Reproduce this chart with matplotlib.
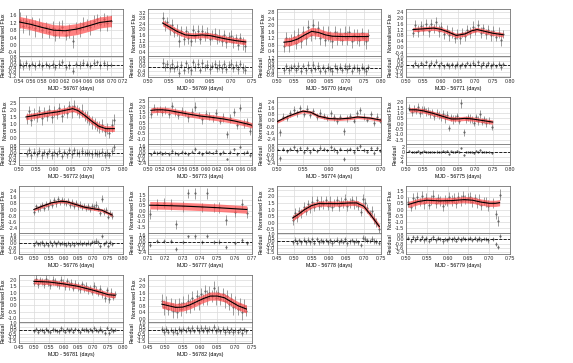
import numpy as np
import matplotlib
matplotlib.use("Agg")
import matplotlib.pyplot as plt
from matplotlib.ticker import FormatStrFormatter

# ---------------- data, one block per night ----------------
# t: MJD fraction, f: normalised flux, e: flux error
# mt/m: model curve, band: half width of the model envelope

t1 = [0.542, 0.547, 0.552, 0.557, 0.563, 0.568, 0.574,
      0.580, 0.586, 0.592, 0.598, 0.603, 0.609, 0.615,
      0.621, 0.627, 0.633, 0.639, 0.645, 0.651, 0.657,
      0.663, 0.669, 0.675, 0.681, 0.687, 0.693, 0.699]
f1 = [1.35, 1.05, 1.30, 0.95, 1.20, 0.90, 1.10,
      0.80, 0.95, 0.70, 0.90, 0.55, 0.85, 1.00,
      0.55, 0.75, 0.20, 0.95, 0.85, 1.15, 1.10,
      0.95, 1.30, 1.40, 1.15, 1.40, 1.20, 1.30]
e1 = [0.45, 0.40, 0.35, 0.40, 0.30, 0.45, 0.35,
      0.40, 0.30, 0.35, 0.40, 0.35, 0.45, 0.35,
      0.30, 0.40, 0.35, 0.30, 0.40, 0.35, 0.30,
      0.40, 0.35, 0.30, 0.40, 0.35, 0.45, 0.30]
mt1 = [0.54, 0.56, 0.58, 0.60, 0.62, 0.64, 0.66, 0.68, 0.70]
m1 = [1.25, 1.12, 0.95, 0.80, 0.77, 0.86, 1.03, 1.22, 1.30]

t2 = [0.535, 0.541, 0.546, 0.552, 0.558, 0.563, 0.569, 0.575, 0.580,
      0.586, 0.592, 0.597, 0.603, 0.609, 0.614, 0.620, 0.626, 0.631,
      0.637, 0.643, 0.648, 0.654, 0.660, 0.665, 0.671, 0.677, 0.682,
      0.688, 0.694, 0.699, 0.705, 0.711, 0.716, 0.722, 0.728, 0.734]
f2 = [2.80, 2.30, 2.50, 2.00, 2.30, 1.80, 1.95, 1.20, 1.90,
      1.30, 1.90, 1.40, 1.20, 1.95, 1.50, 1.85, 1.30, 1.90,
      1.50, 1.75, 1.30, 1.60, 1.70, 1.30, 1.55, 1.20, 1.60,
      1.10, 1.45, 1.50, 1.10, 1.35, 0.90, 1.40, 1.00, 0.80]
e2 = [0.45, 0.40, 0.35, 0.40, 0.45, 0.35, 0.40, 0.45, 0.35,
      0.40, 0.35, 0.45, 0.40, 0.35, 0.40, 0.45, 0.35, 0.40,
      0.35, 0.40, 0.45, 0.35, 0.40, 0.35, 0.45, 0.40, 0.35,
      0.40, 0.35, 0.45, 0.40, 0.35, 0.40, 0.35, 0.45, 0.40]
mt2 = [0.535, 0.55, 0.57, 0.59, 0.61, 0.63, 0.65, 0.67, 0.69, 0.71, 0.735]
m2 = [2.45, 2.20, 1.85, 1.60, 1.55, 1.60, 1.55, 1.42, 1.30, 1.20, 1.10]

t3 = [0.520, 0.527, 0.534, 0.541, 0.548, 0.555, 0.562, 0.569, 0.576,
      0.583, 0.590, 0.597, 0.604, 0.611, 0.618, 0.625, 0.632, 0.639,
      0.646, 0.653, 0.660, 0.667, 0.674, 0.681, 0.688, 0.695, 0.702,
      0.709, 0.716, 0.723, 0.730, 0.737, 0.744, 0.751, 0.757, 0.763]
f3 = [0.70, 1.20, 0.80, 1.10, 1.30, 0.90, 1.40, 1.00, 1.60,
      1.20, 1.90, 1.40, 2.00, 1.50, 1.80, 1.20, 1.60, 1.10,
      1.50, 1.30, 1.00, 1.60, 1.20, 1.45, 1.10, 1.55, 1.20,
      1.60, 1.00, 1.40, 1.30, 1.10, 1.50, 1.20, 1.00, 1.40]
e3 = [0.35, 0.40, 0.45, 0.35, 0.40, 0.35, 0.45, 0.40, 0.35,
      0.40, 0.45, 0.35, 0.40, 0.35, 0.45, 0.40, 0.35, 0.40,
      0.45, 0.35, 0.40, 0.35, 0.45, 0.40, 0.35, 0.40, 0.45,
      0.35, 0.40, 0.35, 0.45, 0.40, 0.35, 0.40, 0.45, 0.35]
mt3 = [0.52, 0.54, 0.56, 0.58, 0.60, 0.62, 0.64, 0.66, 0.69, 0.72, 0.763]
m3 = [0.95, 1.00, 1.15, 1.40, 1.62, 1.55, 1.40, 1.32, 1.30, 1.30, 1.30]

t4 = [0.520, 0.527, 0.535, 0.542, 0.550, 0.557, 0.565, 0.572, 0.580,
      0.587, 0.595, 0.602, 0.610, 0.617, 0.625, 0.632, 0.640, 0.647,
      0.655, 0.662, 0.670, 0.677, 0.685, 0.692, 0.700, 0.707, 0.715,
      0.722, 0.730, 0.737, 0.745, 0.752, 0.760, 0.767, 0.775, 0.780]
f4 = [1.00, 1.50, 1.10, 1.45, 1.20, 1.60, 1.10, 1.55, 1.30,
      1.70, 1.10, 1.40, 0.90, 1.20, 0.80, 1.00, 0.60, 0.90,
      0.60, 1.00, 0.75, 1.20, 1.00, 1.40, 1.10, 1.50, 1.00,
      1.30, 0.90, 1.20, 0.80, 1.10, 0.70, 1.00, 0.50, 0.90]
e4 = [0.30, 0.35, 0.40, 0.30, 0.35, 0.30, 0.40, 0.35, 0.30,
      0.35, 0.40, 0.30, 0.35, 0.30, 0.40, 0.35, 0.30, 0.35,
      0.40, 0.30, 0.35, 0.30, 0.40, 0.35, 0.30, 0.35, 0.40,
      0.30, 0.35, 0.30, 0.40, 0.35, 0.30, 0.35, 0.40, 0.30]
mt4 = [0.52, 0.55, 0.58, 0.60, 0.62, 0.645, 0.67, 0.69, 0.705, 0.72, 0.75, 0.78]
m4 = [1.20, 1.25, 1.30, 1.22, 1.05, 0.80, 0.90, 1.12, 1.20, 1.12, 0.95, 0.85]

t5 = [0.522, 0.529, 0.536, 0.544, 0.551, 0.558, 0.565, 0.573, 0.580,
      0.587, 0.594, 0.602, 0.609, 0.616, 0.623, 0.631, 0.638, 0.645,
      0.652, 0.660, 0.667, 0.674, 0.681, 0.689, 0.696, 0.703, 0.710,
      0.718, 0.725, 0.732, 0.739, 0.747, 0.754, 0.761, 0.768, 0.775]
f5 = [1.40, 1.90, 1.30, 1.70, 1.50, 1.90, 1.40, 1.85, 1.60,
      2.00, 1.50, 1.90, 1.70, 2.10, 1.60, 2.00, 1.80, 2.30,
      1.90, 2.30, 2.00, 1.80, 1.95, 1.55, 1.50, 1.30, 1.10,
      1.05, 0.85, 0.80, 0.90, 0.50, 0.70, 0.40, 0.90, 1.30]
e5 = [0.40, 0.35, 0.45, 0.40, 0.35, 0.40, 0.45, 0.35, 0.40,
      0.35, 0.45, 0.40, 0.35, 0.40, 0.45, 0.35, 0.40, 0.35,
      0.45, 0.40, 0.35, 0.40, 0.45, 0.35, 0.40, 0.35, 0.45,
      0.40, 0.35, 0.40, 0.45, 0.35, 0.40, 0.35, 0.45, 0.40]
mt5 = [0.52, 0.55, 0.58, 0.61, 0.64, 0.655, 0.67, 0.69, 0.71, 0.73, 0.75, 0.775]
m5 = [1.50, 1.62, 1.75, 1.85, 2.00, 2.08, 1.95, 1.60, 1.20, 0.85, 0.68, 0.68]

t6 = [0.505, 0.510, 0.515, 0.520, 0.525, 0.530, 0.536, 0.541,
      0.547, 0.552, 0.558, 0.564, 0.570, 0.576, 0.582, 0.588,
      0.594, 0.600, 0.606, 0.612, 0.618, 0.624, 0.630, 0.636,
      0.642, 0.648, 0.654, 0.660, 0.666, 0.671, 0.676, 0.680]
f6 = [1.30, 1.90, 1.60, 1.80, 1.50, 1.70, 1.30, 2.10,
      1.50, 1.20, 1.60, 1.40, 1.00, 1.50, 2.00, 1.20,
      0.80, 1.30, 1.10, 0.90, 1.40, 0.70, 1.00, -0.60,
      0.90, 1.50, 0.30, 1.90, 0.40, 0.60, -0.30, 0.20]
e6 = [0.40, 0.35, 0.40, 0.30, 0.40, 0.35, 0.40, 0.30,
      0.40, 0.35, 0.40, 0.30, 0.40, 0.35, 0.40, 0.30,
      0.40, 0.35, 0.40, 0.30, 0.40, 0.35, 0.40, 0.30,
      0.40, 0.35, 0.40, 0.30, 0.40, 0.35, 0.40, 0.30]
mt6 = [0.505, 0.515, 0.525, 0.535, 0.55, 0.57, 0.59, 0.61, 0.63, 0.65, 0.67, 0.68]
m6 = [1.65, 1.70, 1.70, 1.65, 1.50, 1.30, 1.12, 1.00, 0.85, 0.65, 0.40, 0.25]

t7 = [0.500, 0.506, 0.512, 0.519, 0.525, 0.532, 0.538, 0.545,
      0.551, 0.558, 0.564, 0.570, 0.577, 0.583, 0.590, 0.596,
      0.603, 0.609, 0.615, 0.622, 0.628, 0.635, 0.641, 0.648,
      0.654, 0.660, 0.667, 0.673, 0.680, 0.686, 0.693, 0.699]
f7 = [0.10, -1.50, 0.50, 0.30, 0.90, 1.40, 0.90, 1.60,
      0.80, 1.50, 0.70, 1.20, 0.50, 1.00, 0.60, 0.30,
      0.90, 0.40, -0.10, 0.50, -1.40, 0.30, 0.60, 0.00,
      0.90, 1.30, 0.50, 0.10, 0.80, -0.30, 0.50, 0.00]
e7 = [0.40, 0.45, 0.40, 0.35, 0.40, 0.45, 0.40, 0.35,
      0.40, 0.45, 0.40, 0.35, 0.40, 0.45, 0.40, 0.35,
      0.40, 0.45, 0.40, 0.35, 0.40, 0.45, 0.40, 0.35,
      0.40, 0.45, 0.40, 0.35, 0.40, 0.45, 0.40, 0.35]
mt7 = [0.50, 0.52, 0.54, 0.55, 0.565, 0.58, 0.60, 0.62, 0.64, 0.655, 0.68, 0.70]
m7 = [-0.15, 0.50, 1.00, 1.20, 1.05, 0.55, 0.25, 0.20, 0.30, 0.45, 0.30, 0.05]

t8 = [0.510, 0.516, 0.522, 0.528, 0.534, 0.540, 0.546, 0.552,
      0.558, 0.564, 0.570, 0.576, 0.582, 0.588, 0.594, 0.600,
      0.606, 0.612, 0.618, 0.624, 0.630, 0.636, 0.642, 0.648,
      0.654, 0.660, 0.666, 0.672, 0.678, 0.684, 0.690, 0.696,
      0.702, 0.708, 0.714, 0.720, 0.726, 0.732, 0.740, 0.748]
f8 = [1.50, 1.10, 1.40, 1.20, 1.60, 1.00, 1.30, 1.40,
      1.10, 1.20, 0.90, 1.10, 0.70, 1.00, 0.80, 0.60,
      0.90, 0.50, 0.80, -0.40, 0.60, 0.40, 0.50, 0.70,
      0.30, 1.90, -0.80, 0.40, 0.60, 0.50, 0.40, 0.10,
      0.60, 0.30, 0.90, 0.20, 0.40, 0.10, 0.30, -0.30]
e8 = [0.35, 0.40, 0.35, 0.30, 0.35, 0.40, 0.35, 0.30,
      0.35, 0.40, 0.35, 0.30, 0.35, 0.40, 0.35, 0.30,
      0.35, 0.40, 0.35, 0.30, 0.35, 0.40, 0.35, 0.30,
      0.35, 0.40, 0.35, 0.30, 0.35, 0.40, 0.35, 0.30,
      0.35, 0.40, 0.35, 0.30, 0.35, 0.40, 0.35, 0.30]
mt8 = [0.51, 0.53, 0.55, 0.58, 0.61, 0.63, 0.65, 0.67, 0.69, 0.71, 0.73, 0.75]
m8 = [1.30, 1.30, 1.20, 0.95, 0.65, 0.45, 0.45, 0.50, 0.45, 0.35, 0.25, 0.15]

t9 = [0.500, 0.507, 0.514, 0.520, 0.527, 0.534, 0.541, 0.547,
      0.554, 0.561, 0.568, 0.574, 0.581, 0.588, 0.595, 0.601,
      0.608, 0.615, 0.622, 0.628, 0.635, 0.642, 0.649, 0.655,
      0.662, 0.669, 0.676, 0.682, 0.689, 0.696, 0.703, 0.709,
      0.716, 0.723, 0.730, 0.736, 0.743, 0.750, 0.757, 0.763]
f9 = [-0.30, 0.40, 0.10, 0.30, 0.60, 0.20, 0.70, 0.40,
      1.00, 0.60, 1.20, 0.80, 1.30, 0.90, 1.20, 1.00,
      0.80, 1.10, 0.60, 0.90, 0.50, 0.80, 0.40, 0.60,
      0.30, 0.50, 0.20, 0.40, 0.10, 0.50, 0.30, 0.60,
      0.20, -0.50, 1.40, -0.30, -0.10, -0.90, -0.40, -0.80]
e9 = [0.40, 0.35, 0.40, 0.45, 0.40, 0.35, 0.40, 0.45,
      0.40, 0.35, 0.40, 0.45, 0.40, 0.35, 0.40, 0.45,
      0.40, 0.35, 0.40, 0.45, 0.40, 0.35, 0.40, 0.45,
      0.40, 0.35, 0.40, 0.45, 0.40, 0.35, 0.40, 0.45,
      0.40, 0.35, 0.40, 0.45, 0.40, 0.35, 0.40, 0.45]
mt9 = [0.50, 0.53, 0.56, 0.59, 0.61, 0.64, 0.67, 0.70, 0.73, 0.763]
m9 = [0.00, 0.45, 0.85, 1.05, 1.00, 0.65, 0.30, 0.10, -0.10, -0.70]

t10 = [0.711, 0.715, 0.719, 0.723, 0.726, 0.730, 0.733, 0.737,
       0.741, 0.744, 0.748, 0.751, 0.755, 0.760, 0.764, 0.767]
f10 = [-0.30, 0.60, 0.70, 0.60, -1.30, 0.40, 1.60, 1.60,
       0.30, 1.60, 0.30, 0.30, -0.90, -0.10, 0.60, -0.20]
e10 = [0.45, 0.50, 0.45, 0.50, 0.45, 0.50, 0.45, 0.50,
       0.45, 0.50, 0.45, 0.50, 0.45, 0.50, 0.45, 0.50]
mt10 = [0.711, 0.72, 0.73, 0.74, 0.75, 0.76, 0.767]
m10 = [0.50, 0.47, 0.42, 0.35, 0.27, 0.17, 0.10]

t11 = [0.495, 0.501, 0.508, 0.514, 0.520, 0.527, 0.533, 0.539,
       0.546, 0.552, 0.558, 0.565, 0.571, 0.577, 0.584, 0.590,
       0.596, 0.603, 0.609, 0.615, 0.622, 0.628, 0.634, 0.641,
       0.647, 0.653, 0.660, 0.666, 0.672, 0.679, 0.685, 0.691,
       0.698, 0.704, 0.710, 0.717, 0.723, 0.729, 0.736, 0.744]
f11 = [0.20, 0.70, 0.40, 0.90, 0.70, 1.20, 0.90, 1.40,
       1.10, 1.60, 1.20, 1.70, 1.30, 1.60, 1.40, 1.70,
       1.30, 1.60, 1.20, 1.50, 1.70, 1.30, 1.60, 1.40,
       1.80, 1.30, 1.50, 1.70, 1.40, 1.60, 1.30, 0.80,
       1.80, 1.50, 1.10, 0.70, 0.90, 0.30, 0.00, -0.50]
e11 = [0.35, 0.40, 0.35, 0.30, 0.35, 0.40, 0.35, 0.30,
       0.35, 0.40, 0.35, 0.30, 0.35, 0.40, 0.35, 0.30,
       0.35, 0.40, 0.35, 0.30, 0.35, 0.40, 0.35, 0.30,
       0.35, 0.40, 0.35, 0.30, 0.35, 0.40, 0.35, 0.30,
       0.35, 0.40, 0.35, 0.30, 0.35, 0.40, 0.35, 0.30]
mt11 = [0.495, 0.51, 0.53, 0.55, 0.57, 0.60, 0.63, 0.66, 0.68, 0.70, 0.72, 0.745]
m11 = [0.35, 0.60, 1.00, 1.30, 1.45, 1.45, 1.45, 1.50, 1.50, 1.25, 0.60, -0.30]

t12 = [0.505, 0.511, 0.516, 0.522, 0.527, 0.533, 0.538, 0.544,
       0.549, 0.555, 0.560, 0.566, 0.571, 0.577, 0.582, 0.588,
       0.593, 0.599, 0.604, 0.610, 0.615, 0.621, 0.626, 0.632,
       0.637, 0.643, 0.648, 0.654, 0.659, 0.665, 0.670, 0.676,
       0.681, 0.687, 0.692, 0.698, 0.710, 0.716, 0.720, 0.725]
f12 = [0.60, 0.20, 0.90, 0.50, 1.00, 0.60, 1.10, 0.50,
       0.90, 0.40, 0.80, 1.10, 0.50, 0.90, 0.70, 0.30,
       0.80, 0.60, 1.00, 0.70, 0.90, 0.50, 1.00, 0.70,
       1.10, 0.80, 0.90, 1.00, 0.60, 0.90, 0.50, 0.80,
       0.40, 0.70, 0.60, 0.30, 0.50, -0.40, -0.90, 1.20]
e12 = [0.40, 0.35, 0.40, 0.45, 0.40, 0.35, 0.40, 0.45,
       0.40, 0.35, 0.40, 0.45, 0.40, 0.35, 0.40, 0.45,
       0.40, 0.35, 0.40, 0.45, 0.40, 0.35, 0.40, 0.45,
       0.40, 0.35, 0.40, 0.45, 0.40, 0.35, 0.40, 0.45,
       0.40, 0.35, 0.40, 0.45, 0.40, 0.35, 0.40, 0.45]
mt12 = [0.505, 0.53, 0.55, 0.58, 0.61, 0.64, 0.66, 0.68, 0.70, 0.715, 0.725]
m12 = [0.40, 0.65, 0.75, 0.70, 0.72, 0.80, 0.75, 0.60, 0.50, 0.50, 0.55]

t13 = [0.500, 0.507, 0.514, 0.521, 0.528, 0.535, 0.542, 0.549,
       0.556, 0.563, 0.570, 0.577, 0.584, 0.591, 0.598, 0.605,
       0.612, 0.619, 0.626, 0.633, 0.640, 0.647, 0.654, 0.661,
       0.668, 0.675, 0.682, 0.689, 0.696, 0.703, 0.710, 0.717,
       0.724, 0.731, 0.738, 0.745, 0.752, 0.759, 0.766, 0.773]
f13 = [1.80, 2.10, 1.70, 2.00, 1.90, 1.70, 2.10, 1.80,
       1.60, 2.00, 1.90, 1.70, 1.60, 2.00, 1.80, 1.50,
       1.90, 1.60, 1.80, 1.40, 1.70, 1.50, 1.30, 1.70,
       1.40, 1.50, 1.20, 1.40, 1.10, 1.50, 1.20, 1.00,
       1.30, 0.90, 0.60, 1.20, 0.50, 1.00, 0.70, 0.90]
e13 = [0.30, 0.35, 0.30, 0.25, 0.30, 0.35, 0.30, 0.25,
       0.30, 0.35, 0.30, 0.25, 0.30, 0.35, 0.30, 0.25,
       0.30, 0.35, 0.30, 0.25, 0.30, 0.35, 0.30, 0.25,
       0.30, 0.35, 0.30, 0.25, 0.30, 0.35, 0.30, 0.25,
       0.30, 0.35, 0.30, 0.25, 0.30, 0.35, 0.30, 0.25]
mt13 = [0.50, 0.55, 0.60, 0.65, 0.70, 0.73, 0.75, 0.773]
m13 = [1.90, 1.85, 1.70, 1.50, 1.20, 1.00, 0.85, 0.80]

t14 = [0.490, 0.496, 0.502, 0.509, 0.515, 0.521, 0.527, 0.534,
       0.540, 0.546, 0.552, 0.559, 0.565, 0.571, 0.577, 0.584,
       0.590, 0.596, 0.602, 0.609, 0.615, 0.621, 0.627, 0.634,
       0.640, 0.646, 0.652, 0.659, 0.665, 0.671, 0.677, 0.684,
       0.690, 0.696, 0.702, 0.709, 0.715, 0.721, 0.727, 0.734]
f14 = [1.10, 0.70, 1.00, 0.60, 0.90, 0.50, 0.80, 0.40,
       0.90, 0.60, 1.00, 0.70, 1.10, 0.80, 1.30, 0.90,
       1.40, 1.00, 1.50, 1.20, 1.70, 1.30, 1.60, 1.40,
       1.90, 1.30, 1.60, 1.20, 1.50, 1.10, 1.40, 0.90,
       1.20, 0.70, 1.00, 0.60, 0.90, 0.40, 0.80, 0.50]
e14 = [0.40, 0.45, 0.40, 0.35, 0.40, 0.45, 0.40, 0.35,
       0.40, 0.45, 0.40, 0.35, 0.40, 0.45, 0.40, 0.35,
       0.40, 0.45, 0.40, 0.35, 0.40, 0.45, 0.40, 0.35,
       0.40, 0.45, 0.40, 0.35, 0.40, 0.45, 0.40, 0.35,
       0.40, 0.45, 0.40, 0.35, 0.40, 0.45, 0.40, 0.35]
mt14 = [0.49, 0.51, 0.53, 0.55, 0.57, 0.59, 0.61, 0.63, 0.65, 0.67, 0.69, 0.71, 0.734]
m14 = [0.90, 0.80, 0.70, 0.72, 0.85, 1.05, 1.25, 1.40, 1.40, 1.30, 1.05, 0.80, 0.60]

nights = [56767, 56769, 56770, 56771, 56772, 56773, 56774,
          56775, 56776, 56777, 56778, 56779, 56781, 56782]
bands = [0.30, 0.20, 0.25, 0.15, 0.20, 0.25, 0.20,
         0.20, 0.20, 0.35, 0.20, 0.25, 0.20, 0.25]

# axis ticks per panel
xt_a = [0.54, 0.56, 0.58, 0.60, 0.62, 0.64, 0.66, 0.68, 0.70, 0.72]
xt_b = [0.50, 0.55, 0.60, 0.65, 0.70, 0.75]
xt_c = [0.50, 0.55, 0.60, 0.65, 0.70, 0.75, 0.80]
xt_d = [0.50, 0.52, 0.54, 0.56, 0.58, 0.60, 0.62, 0.64, 0.66, 0.68]
xt_e = [0.50, 0.55, 0.60, 0.65, 0.70]
xt_f = [0.45, 0.50, 0.55, 0.60, 0.65, 0.70, 0.75, 0.80]
xt_g = [0.71, 0.72, 0.73, 0.74, 0.75, 0.76, 0.77]
xt_h = [0.45, 0.50, 0.55, 0.60, 0.65, 0.70, 0.75]
xticks = [xt_a, xt_b, xt_c, xt_c, xt_c, xt_d, xt_e,
          xt_c, xt_f, xt_g, xt_h, xt_b, xt_f, xt_h]

yt_04 = [-0.4, 0.0, 0.4, 0.8, 1.2, 1.6]
yt_32 = [0.4, 0.8, 1.2, 1.6, 2.0, 2.4, 2.8, 3.2]
yt_28 = [0.4, 0.8, 1.2, 1.6, 2.0, 2.4, 2.8]
yt_24 = [-0.4, 0.0, 0.4, 0.8, 1.2, 1.6, 2.0, 2.4]
yt_25 = [0.0, 0.5, 1.0, 1.5, 2.0, 2.5]
yt_m1 = [-1.0, -0.5, 0.0, 0.5, 1.0, 1.5, 2.0, 2.5]
yt_08 = [-2.4, -1.6, -0.8, 0.0, 0.8, 1.6, 2.4]
yt_20 = [-1.5, -1.0, -0.5, 0.0, 0.5, 1.0, 1.5, 2.0]
yt_15 = [-1.5, -1.0, -0.5, 0.0, 0.5, 1.0, 1.5]
yt_h5 = [-0.5, 0.0, 0.5, 1.0, 1.5, 2.0, 2.5]
yt_21 = [-1.0, -0.5, 0.0, 0.5, 1.0, 1.5, 2.0]
yt_z4 = [0.0, 0.4, 0.8, 1.2, 1.6, 2.0, 2.4]
yticks = [yt_04, yt_32, yt_28, yt_24, yt_25, yt_m1, yt_08,
          yt_20, yt_08, yt_15, yt_h5, yt_15, yt_21, yt_z4]
ylims = [(-0.6, 1.95), (0.1, 3.45), (0.1, 3.0), (-0.6, 2.6), (-0.4, 2.9),
         (-1.5, 2.9), (-3.0, 3.0), (-1.9, 2.5), (-3.0, 3.0), (-2.1, 2.3),
         (-0.8, 2.8), (-1.9, 1.9), (-1.3, 2.4), (-0.2, 2.7)]

rt_a = [-1.2, -0.8, -0.4, 0.0, 0.4, 0.8]
rt_b = [-0.8, -0.4, 0.0, 0.4, 0.8]
rt_c = [-0.8, -0.4, 0.0, 0.4, 0.8, 1.2]
rt_d = [-1.5, -1.0, -0.5, 0.0, 0.5, 1.0]
rt_e = [-2.4, -1.6, -0.8, 0.0, 0.8, 1.6]
rt_f = [-2.4, -1.6, -0.8, 0.0, 0.8]
rt_g = [-4, -2, 0, 2]
rt_h = [-1.6, -0.8, 0.0, 0.8, 1.6]
rticks = [rt_a, rt_b, rt_c, rt_d, rt_a, rt_e, rt_f,
          rt_g, rt_h, rt_e, rt_d, rt_f, rt_d, rt_d]
rlims = [(-1.3, 0.9), (-1.0, 1.0), (-1.0, 1.4), (-1.7, 1.2), (-1.4, 1.0),
         (-2.8, 2.0), (-2.8, 1.2), (-5.0, 3.0), (-2.0, 2.0), (-2.8, 2.0),
         (-1.8, 1.2), (-2.8, 1.2), (-1.8, 1.2), (-1.8, 1.2)]

ts = [t1, t2, t3, t4, t5, t6, t7, t8, t9, t10, t11, t12, t13, t14]
fs = [f1, f2, f3, f4, f5, f6, f7, f8, f9, f10, f11, f12, f13, f14]
es = [e1, e2, e3, e4, e5, e6, e7, e8, e9, e10, e11, e12, e13, e14]
mts = [mt1, mt2, mt3, mt4, mt5, mt6, mt7, mt8, mt9, mt10, mt11, mt12, mt13, mt14]
ms = [m1, m2, m3, m4, m5, m6, m7, m8, m9, m10, m11, m12, m13, m14]

# ---------------- figure ----------------
W, H = 573, 363
plt.rcParams['font.family'] = ['Liberation Sans', 'DejaVu Sans']
fig = plt.figure(figsize=(W / 100, H / 100), dpi=100)

lefts = [19, 148, 277, 406]
tops = [9, 97, 186, 275]
aw, mh, rh = 104, 47, 21
FS = 3.8


def add_px(left, top, w, h):
    return fig.add_axes([left / W, 1 - (top + h) / H, w / W, h / H])


def style(ax):
    ax.grid(True, color='0.86', lw=0.5)
    ax.set_axisbelow(True)
    for s in ax.spines.values():
        s.set_color('0.45')
        s.set_linewidth(0.6)
    ax.tick_params(length=0, labelsize=FS, pad=1.2, colors='0.15')


for i in range(14):
    row, col = divmod(i, 4)
    t = np.array(ts[i])
    f = np.array(fs[i])
    e = np.array(es[i])
    mt = np.array(mts[i])
    m = np.array(ms[i])
    b = bands[i]
    xl = (xticks[i][0], xticks[i][-1])

    ax = add_px(lefts[col], tops[row], aw, mh)
    rx = add_px(lefts[col], tops[row] + mh, aw, rh)
    style(ax)
    style(rx)

    ax.errorbar(t, f, yerr=e, fmt='.', ms=1.0, color='0.35', ecolor='0.55',
                elinewidth=0.6, capsize=0, zorder=2)
    ax.fill_between(mt, m - b, m + b, color='#ff4d4d', alpha=0.7, lw=0, zorder=3)
    ax.plot(mt, m, color='k', lw=0.8, zorder=4)
    ax.set_xlim(*xl)
    ax.set_ylim(*ylims[i])
    ax.set_xticks(xticks[i])
    ax.set_xticklabels([])
    ax.set_yticks(yticks[i])
    ax.yaxis.set_major_formatter(FormatStrFormatter('%.1f'))
    ax.set_ylabel('Normalised Flux', fontsize=FS, labelpad=1.5)

    r = f - np.interp(t, mt, m)
    rx.errorbar(t, r, yerr=e, fmt='.', ms=1.0, color='0.35', ecolor='0.55',
                elinewidth=0.6, capsize=0, zorder=2)
    rx.axhline(0, color='k', ls='--', lw=0.6, zorder=3)
    rx.set_xlim(*xl)
    rx.set_ylim(*rlims[i])
    rx.set_xticks(xticks[i])
    rx.xaxis.set_major_formatter(FormatStrFormatter('%.2f'))
    rx.set_yticks(rticks[i])
    if i == 7:
        rx.yaxis.set_major_formatter(FormatStrFormatter('%d'))
    else:
        rx.yaxis.set_major_formatter(FormatStrFormatter('%.1f'))
    rx.set_ylabel('Residual', fontsize=FS, labelpad=1.5)
    rx.set_xlabel('MJD - %d (days)' % nights[i], fontsize=FS, labelpad=1.5)

fig.savefig('out.png', dpi=100)
